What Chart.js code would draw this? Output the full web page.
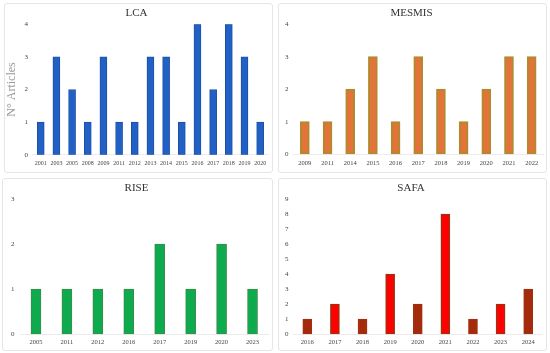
<!DOCTYPE html>
<html><head><meta charset="utf-8">
<script src="https://cdn.jsdelivr.net/npm/chart.js@4/dist/chart.umd.min.js"></script>
<style>
html,body{margin:0;padding:0;background:#fff;width:550px;height:353px;overflow:hidden}
.p{position:absolute;border:1px solid #e6e6e6;border-radius:3px;box-sizing:border-box}
canvas{position:absolute;left:0;top:0}
</style></head><body>
<div class="p" style="left:4px;top:3px;width:269px;height:170px"><canvas id="c1" width="267" height="168"></canvas></div>
<div class="p" style="left:278px;top:3px;width:269px;height:170px"><canvas id="c2" width="267" height="168"></canvas></div>
<div class="p" style="left:2px;top:178px;width:271px;height:173px"><canvas id="c3" width="269" height="171"></canvas></div>
<div class="p" style="left:278px;top:178px;width:269px;height:173px"><canvas id="c4" width="267" height="171"></canvas></div>
<script>
const lcaYears = ['2001','2003','2005','2008','2009','2011','2012','2013','2014','2015','2016','2017','2018','2019','2020'];
const lcaCounts = [1,3,2,1,3,1,1,3,3,1,4,2,4,3,1];
const mesmisYears = ['2009','2011','2014','2015','2016','2017','2018','2019','2020','2021','2022'];
const mesmisCounts = [1,1,2,3,1,3,2,1,2,3,3];
const riseYears = ['2005','2011','2012','2016','2017','2019','2020','2023'];
const riseCounts = [1,1,1,1,2,1,2,1];
const safaYears = ['2016','2017','2018','2019','2020','2021','2022','2023','2024'];
const safaCounts = [1,2,1,4,2,8,1,2,3];
const yTitle = 'N° Articles';

const FONT = "'Liberation Serif','DejaVu Serif',serif";
function make(id, title, labels, data, opts){
  new Chart(document.getElementById(id), {
    type:'bar',
    data:{labels, datasets:[{data, backgroundColor:opts.bg, borderColor:opts.bc, borderWidth:opts.bw,
      barThickness:opts.bt, borderSkipped:false}]},
    options:{
      responsive:false, animation:false, devicePixelRatio:1,
      layout:{padding:opts.pad},
      plugins:{legend:{display:false}, tooltip:{enabled:false},
        title:{display:true, text:title, color:'#333', font:{family:FONT,size:11,weight:'normal'}, padding:{top:2,bottom:opts.tb}}},
      scales:{
        x:{grid:{display:false, drawTicks:false}, border:{display:true,color:'#ececec'},
           ticks:{color:'#444', font:{family:FONT,size:opts.xf}, padding:opts.xp, maxRotation:0, autoSkip:false}},
        y:{min:0, max:opts.max, grid:{display:false, drawTicks:false}, border:{display:false},
           afterBuildTicks:(s)=>{const t=[];for(let v=0;v<=opts.max;v++)t.push({value:v});s.ticks=t;},
           ticks:{stepSize:1, color:'#444', font:{family:FONT,size:7}, padding:opts.tp},
           title:{display:!!opts.yt, text:opts.yt||'', color:'#999', font:{family:FONT,size:12}, padding:{top:0,bottom:0}}}
      }
    }
  });
}
make('c1','LCA',lcaYears,lcaCounts,{bg:'#2160C4',bc:'#1E4FA6',bw:1,bt:7,max:4,xf:6,xp:5,pad:{left:0,right:4,top:1,bottom:0},tb:4,tp:5,yt:yTitle});
make('c2','MESMIS',mesmisYears,mesmisCounts,{bg:'#E4733A',bc:'#B08A2E',bw:2,bt:9,max:4,xf:6.5,xp:5,pad:{left:1,right:3,top:1,bottom:0},tb:4,tp:5});
const riseBg = riseCounts.map(()=> '#0DAA4E');
make('c3','RISE',riseYears,riseCounts,{bg:riseBg,bc:'#3E8A4A',bw:1,bt:10,max:3,xf:6.5,xp:4,pad:{left:2,right:4,top:1,bottom:0},tb:4,tp:6});
const safaBg = ['#A52A0C','#FF0000','#A52A0C','#FF0000','#A52A0C','#FF0000','#A52A0C','#FF0000','#A52A0C'];
make('c4','SAFA',safaYears,safaCounts,{bg:safaBg,bc:'#A0300E',bw:1.5,bt:9,max:9,xf:6.5,xp:4,pad:{left:1,right:4,top:1,bottom:0},tb:4,tp:5});
</script>
</body></html>
